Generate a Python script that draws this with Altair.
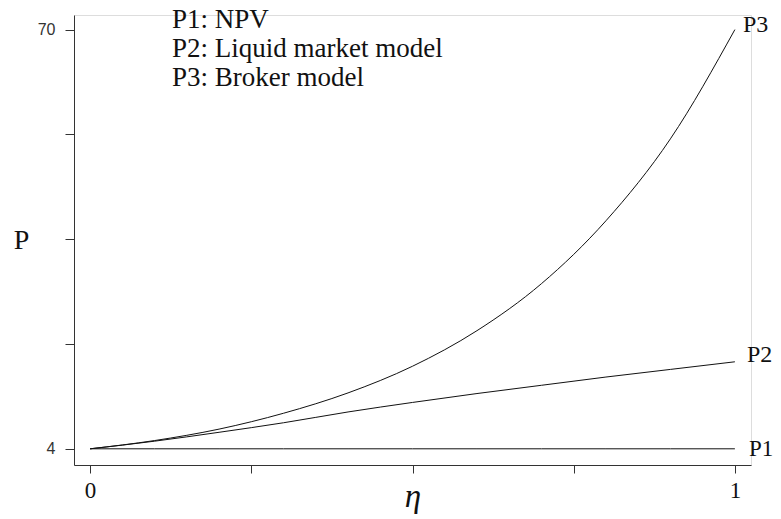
import altair as alt
import pandas as pd

# Data
eta = [0.0, 0.1, 0.2, 0.3, 0.4, 0.5, 0.6, 0.7, 0.8, 0.9, 1.0]
p1 = [4, 4, 4, 4, 4, 4, 4, 4, 4, 4, 4]
p2 = [4.0, 5.2, 6.6, 8.1, 9.8, 11.3, 12.7, 14.0, 15.3, 16.5, 17.7]
p3 = [4.0, 5.3, 7.1, 9.6, 12.8, 17.0, 22.6, 30.0, 39.9, 52.8, 70.0]

y_ticks = [4, 20.5, 37, 53.5, 70]
x_ticks = [0, 0.25, 0.5, 0.75, 1]

legend_lines = ["P1: NPV", "P2: Liquid market model", "P3: Broker model"]
legend_x = [0.127, 0.127, 0.127]
legend_y = [70.3, 65.7, 61.2]

end_labels = ["P1", "P2", "P3"]
end_x = [1.0, 1.0, 1.0]
end_y = [4, 17.7, 70]

rows = []
for name, vals in (("P1", p1), ("P2", p2), ("P3", p3)):
    for e, v in zip(eta, vals):
        rows.append({"eta": e, "P": v, "series": name})
df = pd.DataFrame(rows)

legend_df = pd.DataFrame({"text": legend_lines, "x": legend_x, "y": legend_y})
end_df = pd.DataFrame({"text": end_labels, "x": end_x, "y": end_y})

xscale = alt.Scale(domain=[-0.025, 1.025], nice=False, zero=False)
yscale = alt.Scale(domain=[1.45, 72.3], nice=False, zero=False)

x_axis = alt.Axis(
    values=x_ticks,
    labelExpr="datum.value == 0 ? '0' : (datum.value == 1 ? '1' : '')",
    grid=False, tickSize=8, labelPadding=6, labelFont="Liberation Serif",
    labelFontSize=23, labelColor="#111", domainColor="#333", tickColor="#333",
    title="η", titleFont="Liberation Serif", titleFontStyle="italic",
    titleFontWeight="normal", titleFontSize=33, titleColor="#111",
    titleBaseline="alphabetic", titleY=41,
)
y_axis = alt.Axis(
    values=y_ticks,
    labelExpr="datum.value == 4 ? '4' : (datum.value == 70 ? '70' : '')",
    grid=False, tickSize=9, labelPadding=10, labelFont="Liberation Sans",
    labelFontSize=16, labelColor="#333", domainColor="#333", tickColor="#333",
    title="P", titleAngle=0, titleFont="Liberation Serif", titleFontWeight="normal",
    titleFontSize=28, titleColor="#111", titleX=-53, titleY=225,
    titleAlign="center", titleBaseline="middle",
)

lines = alt.Chart(df).mark_line(color="#111", strokeWidth=1, interpolate="monotone").encode(
    x=alt.X("eta:Q", scale=xscale, axis=x_axis),
    y=alt.Y("P:Q", scale=yscale, axis=y_axis),
    detail="series:N",
)

legend = alt.Chart(legend_df).mark_text(
    align="left", baseline="alphabetic", font="Liberation Serif", fontSize=27, color="#111"
).encode(
    x=alt.X("x:Q", scale=xscale), y=alt.Y("y:Q", scale=yscale), text="text:N"
)

def end_label(i, dx, dy, baseline, size):
    return alt.Chart(end_df.iloc[[i]]).mark_text(
        align="left", baseline=baseline, dx=dx, dy=dy,
        font="Liberation Serif", fontSize=size, color="#111"
    ).encode(x=alt.X("x:Q", scale=xscale), y=alt.Y("y:Q", scale=yscale), text="text:N")

chart = alt.layer(
    lines, legend,
    end_label(0, 14, 0, "middle", 23),
    end_label(1, 12, 0, "alphabetic", 24),
    end_label(2, 8, 2, "alphabetic", 24),
).properties(
    width=677, height=450,
    autosize=alt.AutoSizeParams(type="none"),
    padding={"left": 66, "top": 7, "right": 22, "bottom": 50},
).configure_view(stroke=None).configure(background="white")

chart.save("out.html", embed_options={"renderer": "svg", "actions": False})
